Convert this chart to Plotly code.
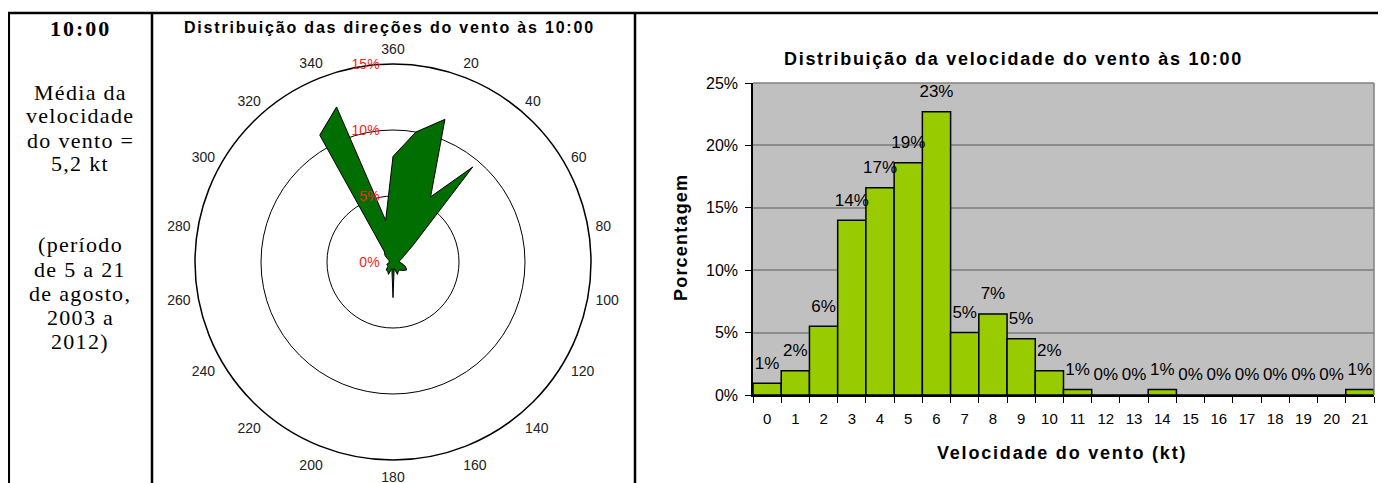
import plotly.graph_objects as go

W, H = 1386, 483
OFF = 8  # page body margin in the viewer

# ---------------- data ----------------
# wind direction distribution (% of observations), every 10 degrees
directions = list(range(0, 360, 10))
dir_pct = [8.0, 10.0, 11.5, 5.7, 9.4, 2.0, 1.0, 0.7, 0.5, 0.5,
           0.7, 1.0, 1.2, 1.0, 0.8, 0.8, 1.0, 0.5, 2.7, 0.5,
           1.0, 0.8, 0.8, 0.5, 0.5, 0.5, 0.3, 0.3, 0.3, 0.3,
           0.5, 0.8, 1.0, 11.1, 12.5, 3.2]
angular_ticks = list(range(0, 360, 20))
angular_labels = ["360"] + [str(a) for a in range(20, 360, 20)]
radial_ticks = [0, 5, 10, 15]
radial_labels = ["0%", "5%", "10%", "15%"]

# wind speed distribution (%)
speed_cats = [str(i) for i in range(22)]
speed_pct = [0.95, 1.95, 5.5, 14.0, 16.6, 18.6, 22.7, 5.0, 6.5, 4.5, 1.95,
             0.45, 0.0, 0.0, 0.45, 0.0, 0.0, 0.0, 0.0, 0.0, 0.0, 0.45]
speed_labels = ["1%", "2%", "6%", "14%", "17%", "19%", "23%", "5%", "7%", "5%", "2%",
                "1%", "0%", "0%", "1%", "0%", "0%", "0%", "0%", "0%", "0%", "1%"]
y_ticks = [0, 5, 10, 15, 20, 25]
y_labels = ["0%", "5%", "10%", "15%", "20%", "25%"]

left_title = "10:00"
left_lines = ["Média da", "velocidade", "do vento =", "5,2 kt", "",
              "(período", "de 5 a 21", "de agosto,", "2003 a", "2012)"]


def px(x):
    return (x - OFF) / W


def py(y):
    return 1 - (y - OFF) / H


def spaced(t, ls):
    return '<span style="letter-spacing:%.1fpx">%s</span>' % (ls, t)


fig = go.Figure()

# wind rose polygon
fig.add_trace(go.Scatterpolar(
    r=dir_pct + [dir_pct[0]], theta=directions + [directions[0]],
    mode="lines", fill="toself", fillcolor="#006E00",
    line=dict(color="black", width=1), hoverinfo="skip", showlegend=False,
    subplot="polar"))

# wind speed bars
fig.add_trace(go.Bar(
    x=speed_cats, y=speed_pct, width=1,
    marker=dict(color="#99CC00", line=dict(color="black", width=1.5)),
    hoverinfo="skip", showlegend=False, xaxis="x", yaxis="y"))
# data labels above bars
fig.add_trace(go.Scatter(
    x=speed_cats, y=speed_pct, mode="markers+text", text=speed_labels,
    textposition="top center", cliponaxis=False,
    marker=dict(size=15, color="rgba(0,0,0,0)"),
    textfont=dict(family="Liberation Sans, Arial", size=17, color="black"),
    hoverinfo="skip", showlegend=False, xaxis="x", yaxis="y"))

cx, cy, R = 393, 262, 198
fig.update_layout(
    template="none",
    width=W, height=H, margin=dict(l=0, r=0, t=0, b=0, pad=0, autoexpand=False),
    paper_bgcolor="white", plot_bgcolor="#C0C0C0",
    font=dict(family="Liberation Sans, Arial", color="black"),
    polar=dict(
        domain=dict(x=[px(cx - R), px(cx + R)], y=[py(cy + R), py(cy - R)]),
        bgcolor="white",
        angularaxis=dict(rotation=90, direction="clockwise", tickmode="array",
                         tickvals=angular_ticks, ticktext=angular_labels,
                         showgrid=False, linecolor="black", linewidth=1.5,
                         ticks="outside", ticklen=4, tickcolor="rgba(0,0,0,0)",
                         tickfont=dict(size=14, color="#222")),
        radialaxis=dict(range=[0, 15], tickmode="array", tickvals=radial_ticks,
                        ticktext=radial_labels, angle=90, tickangle=90,
                        showline=False, ticks="outside", ticklen=8,
                        tickcolor="rgba(0,0,0,0)", gridcolor="black", gridwidth=1.3,
                        side="counterclockwise",
                        tickfont=dict(size=14, color="#FF2020"))),
    xaxis=dict(domain=[px(753), px(1374)], type="category", range=[-0.5, 21.5],
               tickson="boundaries", ticks="outside", ticklen=6, tickcolor="black",
               showline=True, linecolor="black", linewidth=1.5, showgrid=False,
               tickfont=dict(size=15), ticklabelstandoff=9, anchor="y",
               automargin=False),
    yaxis=dict(domain=[py(395), py(83)], range=[0, 25], tickmode="array",
               tickvals=y_ticks, ticktext=y_labels, ticks="outside", ticklen=6,
               tickcolor="black", showline=True, linecolor="black", linewidth=1.5,
               gridcolor="#8C8C8C", gridwidth=1.5, tickfont=dict(size=16),
               ticklabelstandoff=4, zeroline=False, anchor="x", automargin=False),
)

shapes = []
# table lines
for (x0, y0, x1, y1) in [(7, 13, 1400, 13), (8.8, 13, 8.8, 495), (152, 13, 152, 495),
                         (635, 13, 635, 495)]:
    shapes.append(dict(type="line", xref="paper", yref="paper",
                       x0=px(x0), y0=py(y0), x1=px(x1), y1=py(y1),
                       line=dict(color="black", width=2.5)))
# gray plot border (top/right)
shapes.append(dict(type="line", xref="paper", yref="paper", x0=px(753), x1=px(1374),
                   y0=py(83), y1=py(83), line=dict(color="#808080", width=1.5)))
shapes.append(dict(type="line", xref="paper", yref="paper", x0=px(1374), x1=px(1374),
                   y0=py(83), y1=py(395), line=dict(color="#808080", width=1.5)))
fig.update_layout(shapes=shapes)


def add_text(text, x, y, size, family="Liberation Sans, Arial", angle=0):
    return dict(text=text, x=px(x), y=py(y), xref="paper", yref="paper",
                xanchor="center", yanchor="middle", showarrow=False, textangle=angle,
                font=dict(family=family, size=size, color="black"))


serif = "Liberation Serif, Times New Roman"
ann = [add_text(spaced("<b>" + left_title + "</b>", 2.0), 80, 29, 22, serif)]
ys = [92, 116, 140, 164, 0, 245, 269, 293, 317, 341]
for t, yy in zip(left_lines, ys):
    if t:
        ann.append(add_text(spaced(t, 1.3), 80, yy, 22, serif))
ann.append(add_text(spaced("<b>Distribuição das direções do vento às 10:00</b>", 1.8),
                    390, 27, 16))
ann.append(add_text(spaced("<b>Distribuição da velocidade do vento às 10:00</b>", 1.7),
                    1013, 59, 18))
ann.append(add_text(spaced("<b>Porcentagem</b>", 1.2), 681, 238, 18, angle=-90))
ann.append(add_text(spaced("<b>Velocidade do vento (kt)</b>", 1.8), 1062, 453, 18))
fig.update_layout(annotations=ann)

fig.write_html("out.html")
